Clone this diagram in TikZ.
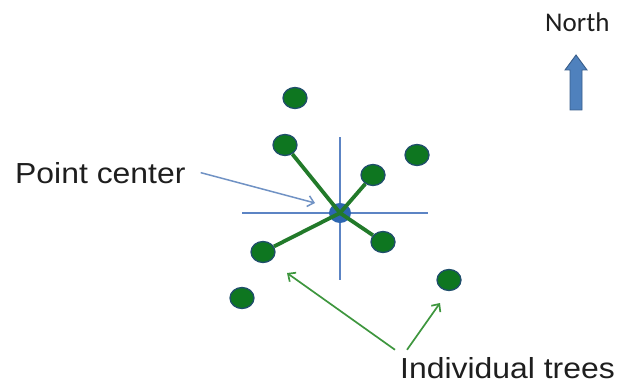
\documentclass[tikz,border=0pt]{standalone}
\usepackage{fontspec}
\usepackage{xcolor}
\usepackage{tikz}
\usetikzlibrary{shapes.geometric,arrows.meta}
\setmainfont{Liberation Sans}
\newfontfamily\northfont{Carlito}
\definecolor{treefill}{RGB}{14,118,32}
\definecolor{treeedge}{RGB}{32,78,108}
\definecolor{spokegreen}{RGB}{34,122,42}
\definecolor{crossblue}{RGB}{92,132,196}
\definecolor{pointerblue}{RGB}{112,146,196}
\definecolor{labelgreen}{RGB}{62,150,62}
\definecolor{northblue}{RGB}{79,129,189}
\definecolor{northedge}{RGB}{56,93,138}
\definecolor{ctrblue}{RGB}{44,102,176}
\definecolor{textgray}{RGB}{30,30,30}

\begin{document}
\begin{tikzpicture}[x=1pt,y=-1pt,
  tree/.style={ellipse, draw=treeedge, line width=1.3pt, fill=treefill,
    minimum width=24pt, minimum height=21pt, inner sep=0pt},
  spoke/.style={spokegreen, line width=3.8pt},
  lbl/.style={font=\fontsize{29}{34}\selectfont, text=textgray, xscale=1.1, inner sep=0pt}]
\useasboundingbox (0,0) rectangle (623,385);

% Crosshair at the point center
\coordinate (cw) at (242,213);
\coordinate (ce) at (428,213);
\coordinate (cn) at (340,137);
\coordinate (cs) at (340,280);
\draw[crossblue, line width=1.6pt] (cw) -- (ce);
\draw[crossblue, line width=1.6pt] (cn) -- (cs);
\node[ellipse, fill=ctrblue, minimum width=22pt, minimum height=20pt, inner sep=0pt] (ctr) at (340,213) {};

% Trees
\node[tree] (t1) at (295,98) {};
\node[tree] (t2) at (285,145) {};
\node[tree] (t3) at (417,155) {};
\node[tree] (t4) at (373,175) {};
\node[tree] (t5) at (383,242) {};
\node[tree] (t6) at (263,252) {};
\node[tree] (t7) at (449,280) {};
\node[tree] (t8) at (242,298) {};

% Nearest tree in each quarter
\draw[spoke] (ctr.center) -- (t2);
\draw[spoke] (ctr.center) -- (t4);
\draw[spoke] (ctr.center) -- (t5);
\draw[spoke] (ctr.center) -- (t6);

% Labels
\node[lbl, anchor=base west] (pc) at (15,183) {Point center};
\node[lbl, anchor=base west] (it) at (400,378) {Individual trees};
\coordinate (pctip) at (315,203);
\coordinate (ittip1) at (287,273);
\coordinate (ittip2) at (440,303);
\draw[pointerblue, line width=1.5pt, -{Straight Barb[length=6pt,width=11pt]}]
  ([xshift=15pt]pc.east) -- (pctip);
\draw[labelgreen, line width=1.7pt, -{Straight Barb[length=6pt,width=11pt]}]
  ([xshift=-5pt,yshift=7pt]it.north west) -- (ittip1);
\draw[labelgreen, line width=1.7pt, -{Straight Barb[length=6pt,width=11pt]}]
  ([xshift=7pt,yshift=7pt]it.north west) -- (ittip2);

% North arrow
\node[font=\northfont\fontsize{27}{32}\selectfont, text=textgray, inner sep=0pt, anchor=base west] (north) at (545,32) {North};
\draw[fill=northblue, draw=northedge, line width=0.9pt]
  (570,110) -- (570,70) -- (565,70) -- (576,55) -- (587,70) -- (582,70) -- (582,110) -- cycle;
\end{tikzpicture}
\end{document}
